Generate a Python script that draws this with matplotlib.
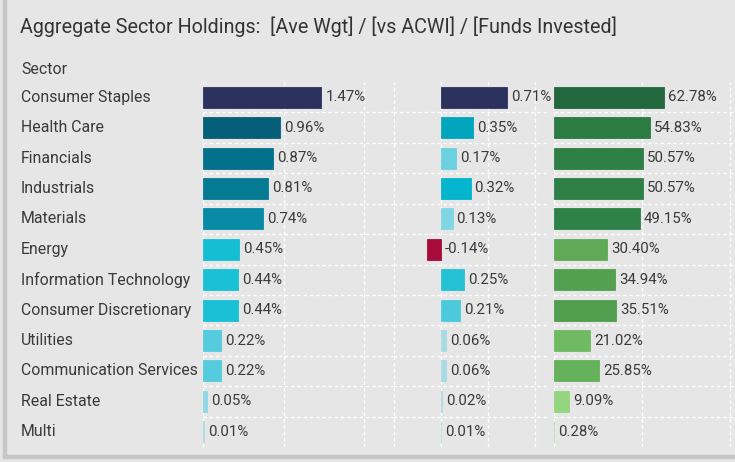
import matplotlib.pyplot as plt
from matplotlib.patches import Rectangle
from matplotlib.transforms import blended_transform_factory

sectors = ['Consumer Staples', 'Health Care', 'Financials', 'Industrials',
           'Materials', 'Energy', 'Information Technology',
           'Consumer Discretionary', 'Utilities', 'Communication Services',
           'Real Estate', 'Multi']
ave_wgt = [1.47, 0.96, 0.87, 0.81, 0.74, 0.45, 0.44, 0.44, 0.22, 0.22, 0.05, 0.01]
vs_acwi = [0.71, 0.35, 0.17, 0.32, 0.13, -0.14, 0.25, 0.21, 0.06, 0.06, 0.02, 0.01]
funds_invested = [62.78, 54.83, 50.57, 50.57, 49.15, 30.40, 34.94, 35.51,
                  21.02, 25.85, 9.09, 0.28]

ave_colors = ['#2c325e', '#055f78', '#03708c', '#057a93', '#0a8ba5', '#16bed4',
              '#1ac0d6', '#1ac0d6', '#55cbde', '#55cbde', '#8fd8e6', '#a8dee8']
acwi_colors = ['#2c325e', '#02a5be', '#6bd1e0', '#03b5cd', '#82d6e4', '#a50c3a',
               '#25c2d6', '#4bcadc', '#a9dbe3', '#a9dbe3', '#b7d8e0', '#b7d8e0']
funds_colors = ['#23673c', '#2b7b43', '#2e8046', '#2e8046', '#2f8247', '#60aa57',
                '#53a050', '#509e4e', '#6fba62', '#66b15c', '#94d57f', '#b3e2a3']

W, H = 735, 462
BG = '#e6e6e6'
TEXT = '#3a3a3a'
FONT = 'Roboto'


def px_axes(fig, x0, x1, y0, y1):
    """Axes placed with pixel coordinates measured from the top-left."""
    return fig.add_axes([x0 / W, 1 - y1 / H, (x1 - x0) / W, (y1 - y0) / H])


def draw_panel(ax, values, colors, xlim, ticks, fmt, offset):
    n = len(values)
    rows = range(n)
    ax.set_facecolor(BG)
    ax.barh(rows, values, height=0.69, color=colors, edgecolor=colors,
            linewidth=0.6, zorder=2)
    ax.set_xlim(*xlim)
    ax.set_ylim(n - 0.5, -0.5)
    for t in ticks:
        ax.axvline(t, color='white', lw=1, ls=(0, (2.5, 2)), zorder=1)
    for i in range(n - 1):
        ax.axhline(i + 0.5, color='white', lw=1, ls=(0, (2.5, 2)), zorder=1)
    for i, v in enumerate(values):
        ax.text(max(v, 0) + offset, i, fmt(v), va='center', ha='left',
                fontsize=10.8, color=TEXT, family=FONT, zorder=3)
    for s in ax.spines.values():
        s.set_visible(False)
    ax.set_xticks([])
    ax.set_yticks([])


fig = plt.figure(figsize=(W / 100, H / 100), dpi=100, facecolor=BG)

# card border (left edge and bottom shadow)
fig.patches.append(Rectangle((3 / W, 1 - 458 / H), 3 / W, 458 / H,
                             transform=fig.transFigure, color='#c6c6c6', zorder=0))
fig.patches.append(Rectangle((3 / W, 1 - 458 / H), 732 / W, 3 / H,
                             transform=fig.transFigure, color='#c6c6c6', zorder=0))

fig.text(20 / W, 1 - 27 / H,
         'Aggregate Sector Holdings:  [Ave Wgt] / [vs ACWI] / [Funds Invested]',
         va='center', ha='left', fontsize=14.2, color='#333333', family=FONT)

top, bottom = 82, 447
ax1 = px_axes(fig, 203, 393, top, bottom)
ax2 = px_axes(fig, 393, 549, top, bottom)
ax3 = px_axes(fig, 553.5, 733, top, bottom)

draw_panel(ax1, ave_wgt, ave_colors, (0, 190 / 80.6), [0, 1, 2],
           lambda v: f'{v:.2f}%', 0.05)
draw_panel(ax2, vs_acwi, acwi_colors, (-47.5 / 94, 108.5 / 94), [-0.5, 0, 0.5, 1.0],
           lambda v: f'{v:.2f}%', 0.04)
draw_panel(ax3, funds_invested, funds_colors, (0, 179.5 / 1.76), [0, 50, 100],
           lambda v: f'{v:.2f}%', 2.2)

# sector names on the left
trans = blended_transform_factory(fig.transFigure, ax1.transData)
for i, name in enumerate(sectors):
    ax1.text(21 / W, i, name, transform=trans, va='center', ha='left',
             fontsize=11.4, color=TEXT, family=FONT, clip_on=False)
fig.text(21 / W, 1 - 70 / H, 'Sector', va='center', ha='left',
         fontsize=11.4, color=TEXT, family=FONT)

fig.savefig('out.png', dpi=100, facecolor=BG)
